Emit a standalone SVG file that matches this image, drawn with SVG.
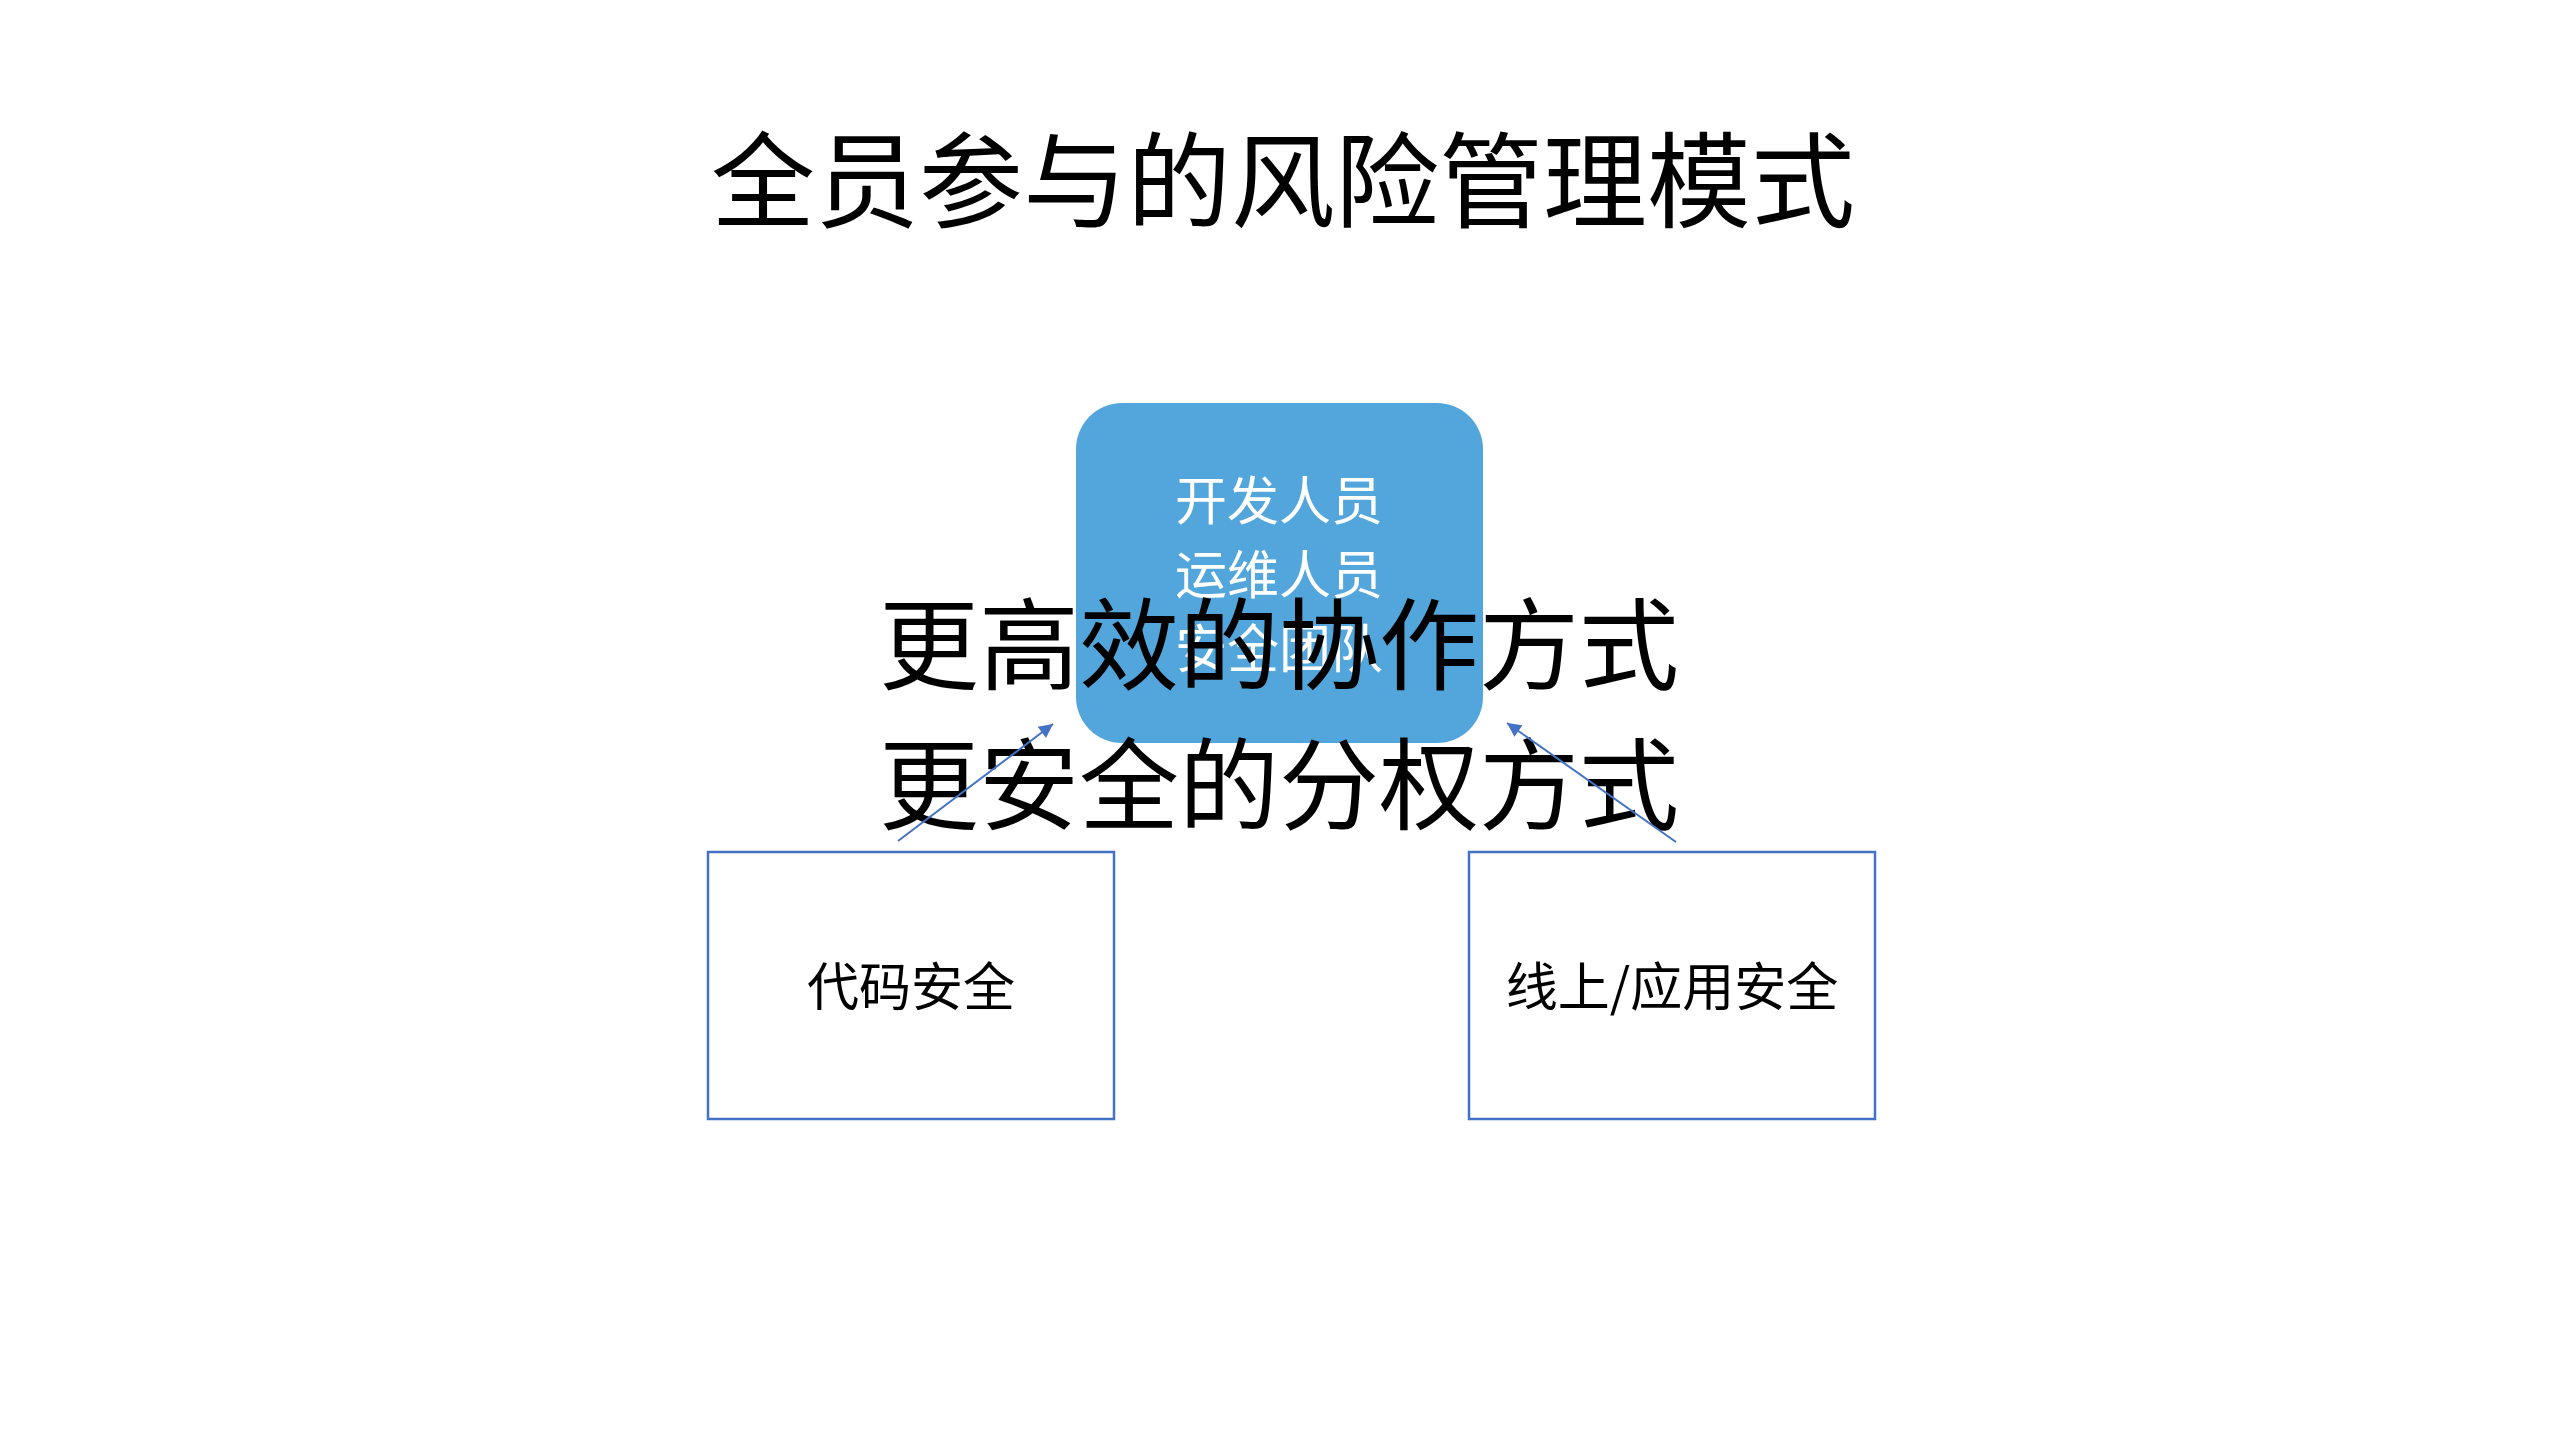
<svg xmlns="http://www.w3.org/2000/svg" width="2559" height="1439" viewBox="0 0 2559 1439">
<style>
text{font-family:"Noto Sans CJK SC","Noto Sans CJK JP",sans-serif;text-anchor:middle}
.title{font-size:104px;fill:#000}
.inner{font-size:52px;fill:#fff}
.big{font-size:100px;fill:#000}
.lbl{font-size:52px;fill:#000}
.box{fill:#fff;stroke:#4472C4;stroke-width:2.5}
.conn{stroke:#4472C4;stroke-width:2;fill:none;marker-end:url(#ah)}
</style>
<defs>
<marker id="ah" viewBox="0 0 10 10" refX="10" refY="5" markerWidth="9" markerHeight="7" orient="auto" markerUnits="strokeWidth">
<path d="M0,0 L10,5 L0,10 z" fill="#4472C4"/>
</marker>
</defs>
<rect width="2559" height="1439" fill="#fff"/>
<g id="title"><text class="title" x="1283" y="220">全员参与的风险管理模式</text></g>
<g id="team">
<rect x="1076" y="403" width="407" height="340" rx="46" ry="46" fill="#53A6DC"/>
<text class="inner" x="1279" y="520">开发人员</text>
<text class="inner" x="1279" y="594">运维人员</text>
<text class="inner" x="1279" y="668">安全团队</text>
</g>
<g id="slogan">
<text class="big" x="1279" y="682">更高效的协作方式</text>
<text class="big" x="1279" y="822">更安全的分权方式</text>
</g>
<g id="code">
<rect class="box" x="708" y="852" width="406" height="267"/>
<text class="lbl" x="911" y="1006">代码安全</text>
</g>
<g id="online">
<rect class="box" x="1469" y="852" width="406" height="267"/>
<text class="lbl" x="1672" y="1006">线上/应用安全</text>
</g>
<g id="connectors">
<line class="conn" x1="898" y1="841" x2="1053" y2="724"/>
<line class="conn" x1="1676" y1="842" x2="1507" y2="723"/>
</g>
</svg>
